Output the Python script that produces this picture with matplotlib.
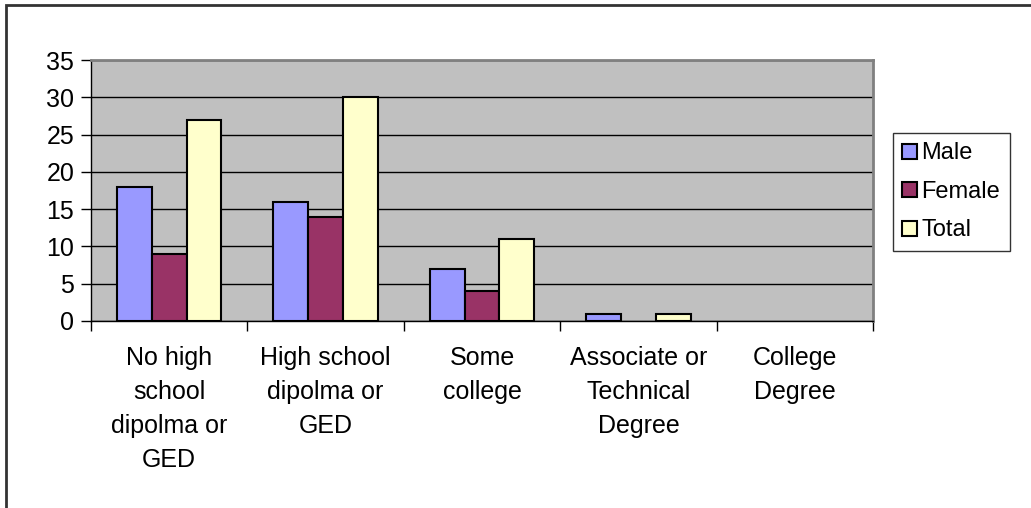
import matplotlib.pyplot as plt
import matplotlib.patches as mpatches
import numpy as np

categories = ["No high\nschool\ndipolma or\nGED", "High school\ndipolma or\nGED",
              "Some\ncollege", "Associate or\nTechnical\nDegree", "College\nDegree"]
male = [18, 16, 7, 1, 0]
female = [9, 14, 4, 0, 0]
total = [27, 30, 11, 1, 0]
yticks = [0, 5, 10, 15, 20, 25, 30, 35]

plt.rcParams['font.family'] = ['Liberation Sans', 'DejaVu Sans']
fs = 18

fig = plt.figure(figsize=(10.31, 5.08), dpi=100)
ax = fig.add_axes([91 / 1031, 1 - 321 / 508, 782 / 1031, 261 / 508])
ax.set_facecolor("#C0C0C0")

x = np.arange(len(categories))
width = 1 / 4.5
series = [(male, "#9999FF", "Male", -width), (female, "#993366", "Female", 0), (total, "#FFFFCC", "Total", width)]
for vals, col, lab, off in series:
    lw = [1.5 if v > 0 else 0 for v in vals]
    ax.bar(x + off, vals, width, color=col, edgecolor="black", linewidth=lw, label=lab, zorder=3)

ax.set_xlim(-0.5, len(categories) - 0.5)
ax.set_ylim(0, 35)
ax.set_yticks(yticks)
ax.yaxis.grid(True, color="black", linewidth=1)
ax.set_axisbelow(True)

ax.set_xticks(np.arange(len(categories) + 1) - 0.5)
ax.set_xticklabels([])
ax.tick_params(axis="x", direction="out", length=7, width=1, color="black")
ax.tick_params(axis="y", direction="out", length=7, width=1, color="black", labelsize=fs, pad=5)

for i, c in enumerate(categories):
    ax.text(i, -3.4, c, ha="center", va="top", fontsize=fs, linespacing=1.52)

for s in ["top", "right"]:
    ax.spines[s].set_color("#808080")
    ax.spines[s].set_linewidth(2)
for s in ["left", "bottom"]:
    ax.spines[s].set_color("black")
    ax.spines[s].set_linewidth(1)

handles = [mpatches.Patch(facecolor=col, edgecolor="black", linewidth=1.5, label=lab)
           for _, col, lab, _ in series]
leg = fig.legend(handles=handles, loc="upper left", bbox_to_anchor=(893 / 1031, 1 - 133 / 508),
                 fontsize=17, frameon=True, fancybox=False, edgecolor="black",
                 handlelength=0.6, handleheight=0.6, handletextpad=0.2,
                 borderpad=0.4, labelspacing=0.7, borderaxespad=0)
leg.get_frame().set_linewidth(1)

fig.patches.append(mpatches.Rectangle((5.5 / 1031, -0.1), 1.2, 1 - 5.5 / 508 + 0.1,
                                      transform=fig.transFigure, fill=False,
                                      edgecolor="#333333", linewidth=2))

plt.savefig("out.png", dpi=100)
